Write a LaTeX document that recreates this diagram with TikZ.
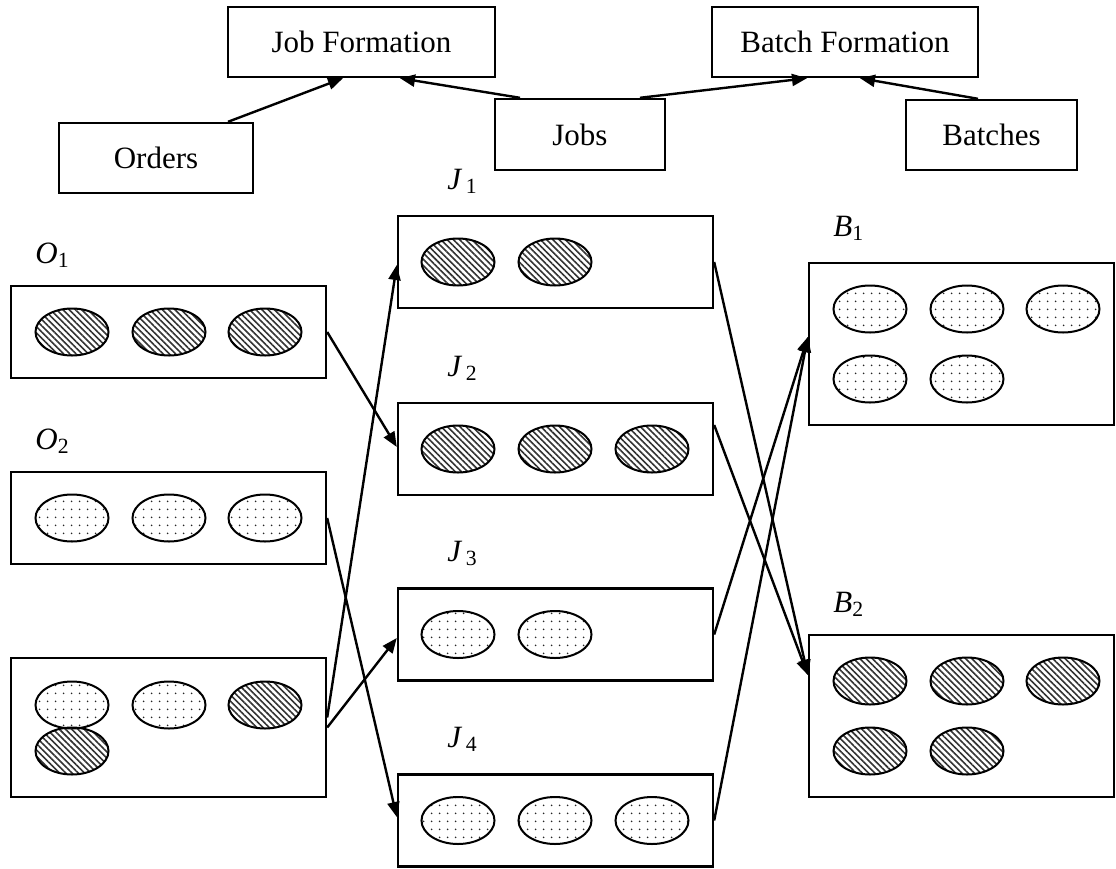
\documentclass[tikz,border=0pt]{standalone}
\usepackage{fontspec}
\setmainfont{Liberation Serif}
\usetikzlibrary{arrows.meta,patterns.meta,calc,shapes.geometric}
\newcommand{\lab}[2]{\textit{#1}\textsubscript{#2}}
\begin{document}
\begin{tikzpicture}[
        x=0.5pt,
        y=-0.5pt,
        box/.style={
            draw,
            line width=1.2pt,
            inner sep=0pt,
            font=\fontsize{15.5}{18}\selectfont
          },
        blob/.style={
            ellipse,
            draw,
            line width=1pt,
            inner sep=0pt,
            minimum width=36.5pt,
            minimum height=23.5pt
          },
        hatchblob/.style={
            blob,
            pattern={Lines[angle=-45,distance=2.2pt,line width=0.8pt]},
            pattern color=black!80
          },
        dotblob/.style={
            blob,
            pattern={Dots[distance=4pt,radius=0.5pt]},
            pattern color=black!85
          },
        lbl/.style={
            anchor=base west,
            inner sep=0pt,
            font=\fontsize{15.5}{18}\selectfont
          },
        link/.style={
            line width=1.2pt,
            -{Triangle[length=7.5pt,width=6pt]}
          }]
        \useasboundingbox (0,0) rectangle (1116,869);

        % Top row
        \node[box, minimum width=133.5pt, minimum height=35pt] (jobform) at (361.5,42) {Job Formation};
        \node[box, minimum width=133pt, minimum height=35pt] (batchform) at (845,42) {Batch Formation};
        \node[box, minimum width=97pt, minimum height=35pt] (orders) at (156,158) {Orders};
        \node[box, minimum width=85pt, minimum height=35.5pt] (jobs) at (580,134.5) {Jobs};
        \node[box, minimum width=85.5pt, minimum height=35pt] (batches) at (991.5,135) {Batches};

        \draw[link] ($(orders.north)+(72,0)$) -- ($(jobform.south)+(-18.5,0)$);
        \draw[link] ($(jobs.north)+(-60,0)$) -- ($(jobform.south)+(38.5,0)$);
        \draw[link] ($(jobs.north)+(60,0)$) -- ($(batchform.south)+(-38,0)$);
        \draw[link] ($(batches.north)+(-13.5,0)$) -- ($(batchform.south)+(15,0)$);

        % Orders
        \node[box, minimum width=157.5pt, minimum height=46pt] (o1) at (168.5,332) {};
        \node[box, minimum width=157.5pt, minimum height=46pt] (o2) at (168.5,518) {};
        \node[box, minimum width=157.5pt, minimum height=69.5pt] (o3) at (168.5,727.5) {};
        \node[lbl] (lo1) at (35,263) {\lab{O}{1}};
        \node[lbl] (lo2) at (35,449) {\lab{O}{2}};
        \foreach \x [count=\i] in {72,169,265} {
            \node[hatchblob] (o1e\i) at (\x,332) {};
            \node[dotblob] (o2e\i) at (\x,518) {};
        }
        \node[dotblob] (o3e1) at (72,705) {};
        \node[dotblob] (o3e2) at (169,705) {};
        \node[hatchblob] (o3e3) at (265,705) {};
        \node[hatchblob] (o3e4) at (72,751) {};

        % Jobs
        \node[box, minimum width=157.5pt, minimum height=46pt] (j1) at (555.5,262) {};
        \node[box, minimum width=157.5pt, minimum height=46pt] (j2) at (555.5,449) {};
        \node[box, minimum width=157.5pt, minimum height=46pt] (j3) at (555.5,634.5) {};
        \node[box, minimum width=157.5pt, minimum height=46pt] (j4) at (555.5,820.5) {};
        \node[lbl] (lj1) at (447,189) {\lab{J}{\,1}};
        \node[lbl] (lj2) at (447,376) {\lab{J}{\,2}};
        \node[lbl] (lj3) at (447,561) {\lab{J}{\,3}};
        \node[lbl] (lj4) at (447,747) {\lab{J}{\,4}};
        \foreach \x [count=\i] in {458,555} {
            \node[hatchblob] (j1e\i) at (\x,262) {};
            \node[dotblob] (j3e\i) at (\x,634.5) {};
        }
        \foreach \x [count=\i] in {458,555,652} {
            \node[hatchblob] (j2e\i) at (\x,449) {};
            \node[dotblob] (j4e\i) at (\x,820.5) {};
        }

        % Batches
        \node[box, minimum width=152.5pt, minimum height=81pt] (b1) at (961.5,344) {};
        \node[box, minimum width=152.5pt, minimum height=81pt] (b2) at (961.5,716) {};
        \node[lbl] (lb1) at (833,236) {\lab{B}{1}};
        \node[lbl] (lb2) at (833,612) {\lab{B}{2}};
        \foreach \x [count=\i] in {870,967,1063} {
            \node[dotblob] (b1e\i) at (\x,309) {};
            \node[hatchblob] (b2e\i) at (\x,681) {};
        }
        \foreach \x [count=\i] in {870,967} {
            \node[dotblob] (b1f\i) at (\x,379) {};
            \node[hatchblob] (b2f\i) at (\x,751) {};
        }

        % Orders to jobs
        \draw[link] (o1.east) -- ($(j2.west)+(0,-2)$);
        \draw[link] ($(o3.east)+(0,-10)$) -- ($(j1.west)+(0,3)$);
        \draw[link] (o3.east) -- ($(j3.west)+(0,3.5)$);
        \draw[link] (o2.east) -- ($(j4.west)+(0,-3.5)$);

        % Jobs to batches
        \draw[link] (j1.east) -- ($(b2.west)+(0,-41)$);
        \draw[link] ($(j2.east)+(0,-24)$) -- ($(b2.west)+(0,-41)$);
        \draw[link] (j3.east) -- ($(b1.west)+(0,-7)$);
        \draw[link] (j4.east) -- ($(b1.west)+(0,-7)$);
    \end{tikzpicture}
\end{document}
